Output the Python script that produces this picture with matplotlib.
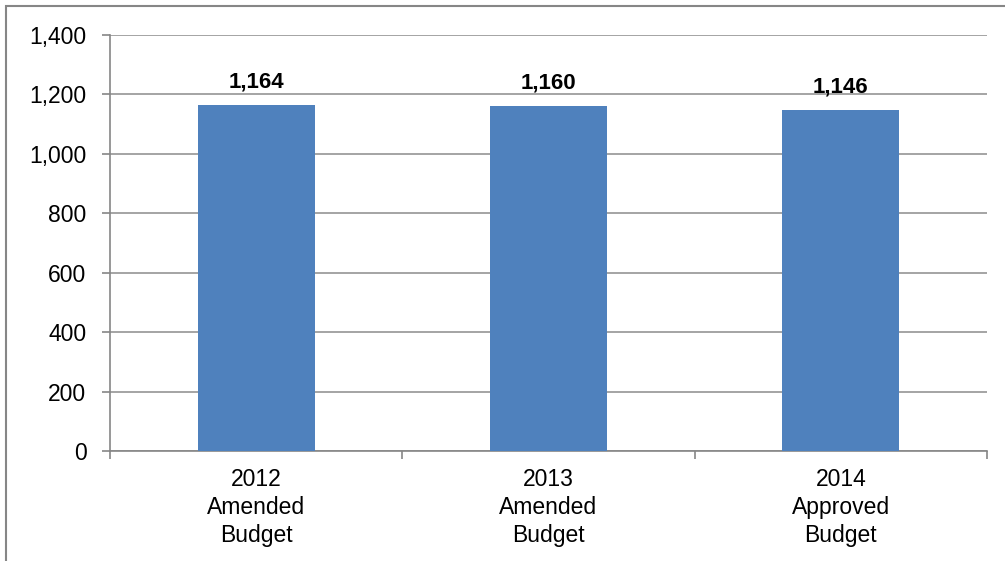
import matplotlib.pyplot as plt
from matplotlib.patches import Rectangle
from matplotlib.ticker import FuncFormatter

categories = ['2012\nAmended\nBudget', '2013\nAmended\nBudget', '2014\nApproved\nBudget']
values = [1164, 1160, 1146]
yticks = [0, 200, 400, 600, 800, 1000, 1200, 1400]

plt.rcParams['font.family'] = ['Liberation Sans', 'DejaVu Sans']

fig = plt.figure(figsize=(10.05, 5.61), dpi=100)
ax = fig.add_axes([110 / 1005, 1 - 451 / 561, 877 / 1005, 416 / 561])

# outer chart border
fig.patches.append(Rectangle((6 / 1005, -0.1), 1.1, 1 - 6 / 561 + 0.1,
                             transform=fig.transFigure, fill=False,
                             edgecolor='#868686', linewidth=1.5))

x = list(range(len(categories)))
ax.bar(x, values, width=0.4, color='#4F81BD', zorder=3)
for xi, v in zip(x, values):
    ax.annotate(f'{v:,}', (xi, v), xytext=(0, 9), textcoords='offset points',
                ha='center', va='bottom', fontsize=16, fontweight='bold')

ax.set_xlim(-0.5, 2.5)
ax.set_ylim(0, 1400)
ax.set_yticks(yticks)
ax.yaxis.set_major_formatter(FuncFormatter(lambda v, p: f'{int(v):,}'))
ax.grid(axis='y', color='#8c8c8c', linewidth=1.1, zorder=0)

ax.set_xticks([-0.5, 0.5, 1.5, 2.5])
ax.set_xticklabels([])
ax.set_xticks(x, minor=True)
ax.set_xticklabels(categories, minor=True, fontsize=16.5, linespacing=1.3)
ax.tick_params(axis='x', which='minor', length=0, pad=12)
ax.tick_params(axis='x', which='major', length=6, color='#868686', width=1.2)
ax.tick_params(axis='y', length=6, color='#868686', width=1.2, labelsize=16.5, pad=11)

for s in ['top', 'right']:
    ax.spines[s].set_visible(False)
for s in ['left', 'bottom']:
    ax.spines[s].set_color('#868686')
    ax.spines[s].set_linewidth(1.2)

fig.savefig('out.png', dpi=100)
